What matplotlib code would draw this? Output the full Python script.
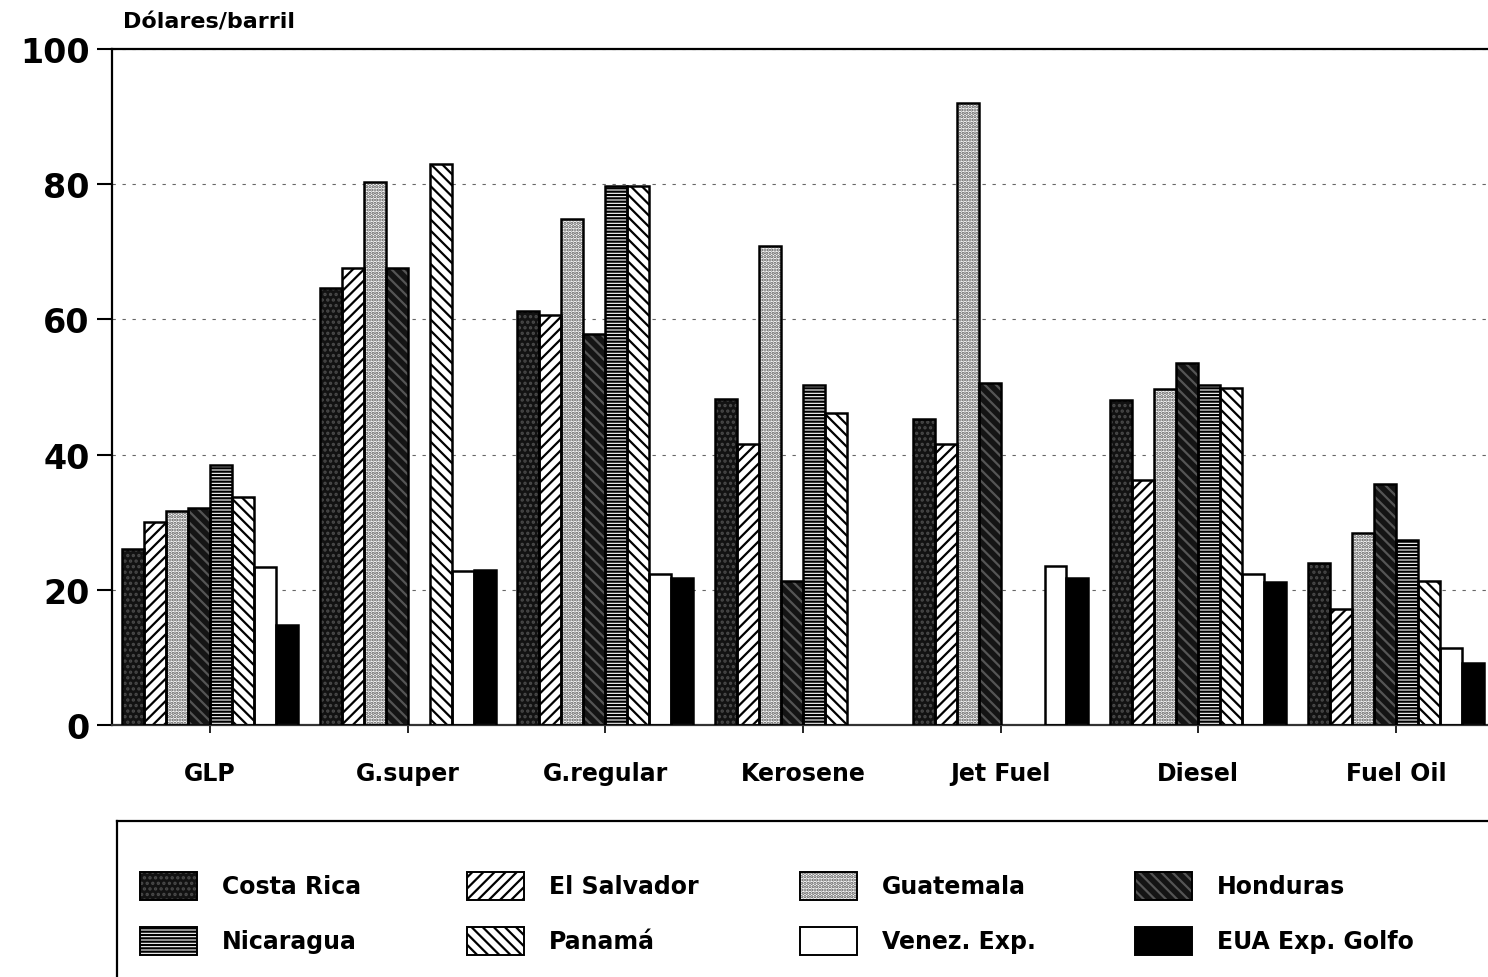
import numpy as np
import matplotlib
matplotlib.use("Agg")
import matplotlib.pyplot as plt
from matplotlib.patches import Rectangle

plt.rcParams['font.family'] = ['DejaVu Sans']
plt.rcParams['font.weight'] = 'bold'
plt.rcParams['hatch.linewidth'] = 1.6

nan = np.nan

# precios por producto (dolares por barril)
categories = ['GLP', 'G.super', 'G.regular', 'Kerosene', 'Jet Fuel', 'Diesel', 'Fuel Oil']
costa_rica = [26.0, 64.6, 61.2, 48.2, 45.3, 48.1, 23.9]
el_salvador = [30.0, 67.6, 60.7, 41.6, 41.6, 36.2, 17.1]
guatemala = [31.7, 80.3, 74.9, 70.8, 92.0, 49.7, 28.4]
honduras = [32.1, 67.6, 57.9, 21.3, 50.6, 53.6, 35.7]
nicaragua = [38.5, nan, 79.8, 50.3, nan, 50.3, 27.4]
panama = [33.8, 83.0, 79.8, 46.1, nan, 49.8, 21.3]
venez_exp = [23.3, 22.8, 22.3, nan, 23.5, 22.4, 11.4]
eua_golfo = [14.8, 22.9, 21.8, nan, 21.8, 21.2, 9.2]

series_names = ['Costa Rica', 'El Salvador', 'Guatemala', 'Honduras',
                'Nicaragua', 'Panamá', 'Venez. Exp.', 'EUA Exp. Golfo']
series_values = [costa_rica, el_salvador, guatemala, honduras,
                 nicaragua, panama, venez_exp, eua_golfo]
y_ticks = [0, 20, 40, 60, 80, 100]

# relleno, trama, color de trama
styles = [
    ('#121212', '...', '#4a4a4a'),
    ('white', '///', 'black'),
    ('white', '.....', '#555555'),
    ('#141414', '\\\\\\', '#555555'),
    ('white', '-----', 'black'),
    ('white', '\\\\\\', 'black'),
    ('white', '', 'white'),
    ('black', '', 'black'),
]


def hatched_box(ax, x, y, w, h, style, lw=1.8):
    face, hatch, hcolor = style
    ax.add_patch(Rectangle((x, y), w, h, facecolor=face, edgecolor=hcolor,
                           hatch=hatch, linewidth=0, zorder=2))
    ax.add_patch(Rectangle((x, y), w, h, fill=False, edgecolor='black',
                           linewidth=lw, zorder=3))


fig = plt.figure(figsize=(14.88, 9.78), dpi=100)
ax = fig.add_axes([112 / 1488, 1 - 726 / 978, 1 - 112 / 1488, 676 / 978])

n = len(series_names)
width = 1 / 9
x = np.arange(len(categories))
for i, (vals, style) in enumerate(zip(series_values, styles)):
    offs = x + (i - (n - 1) / 2) * width
    for xo, v in zip(offs, vals):
        if np.isnan(v):
            continue
        face, hatch, hcolor = style
        ax.bar(xo, v, width, color=face, edgecolor=hcolor, hatch=hatch,
               linewidth=0, zorder=2)
        ax.bar(xo, v, width, fill=False, edgecolor='black', linewidth=1.8, zorder=3)

ax.set_xlim(-0.496, 6.466)
ax.set_ylim(0, 100)
ax.set_yticks(y_ticks)
ax.set_yticklabels([str(t) for t in y_ticks], fontsize=24, fontweight='bold')
ax.set_xticks(x)
ax.set_xticklabels(categories, fontsize=17, fontweight='bold')
ax.tick_params(axis='y', direction='out', length=11, width=1.5, pad=5)
ax.tick_params(axis='x', direction='out', length=6, width=1.2, pad=20)

ax.set_axisbelow(True)
ax.yaxis.grid(True, color='#666666', linestyle=(0, (3, 6)), linewidth=0.8)
ax.spines['right'].set_visible(False)
for s in ('left', 'top', 'bottom'):
    ax.spines[s].set_linewidth(1.6)
ax.spines['bottom'].set_color('#333333')

fig.text(123 / 1488, 1 - 22 / 978, 'Dólares/barril', fontsize=16,
         fontweight='bold', va='center', ha='left')

# leyenda dibujada a mano en coordenadas de pixel
lax = fig.add_axes([0, 0, 1, 1], facecolor='none')
lax.set_xlim(0, 1488)
lax.set_ylim(978, 0)
lax.axis('off')
lax.plot([117, 1488], [822, 822], color='black', linewidth=1.6)
lax.plot([117, 117], [822, 978], color='black', linewidth=1.6)

col_x = [140, 467, 800, 1135]
row_y = [887, 942]
for k, (name, style) in enumerate(zip(series_names, styles)):
    cx = col_x[k % 4]
    cy = row_y[k // 4]
    hatched_box(lax, cx, cy - 14, 57, 28, style, lw=1.4)
    lax.text(cx + 82, cy, name, fontsize=17, fontweight='bold',
             va='center', ha='left')

fig.savefig('out.png', dpi=100)
